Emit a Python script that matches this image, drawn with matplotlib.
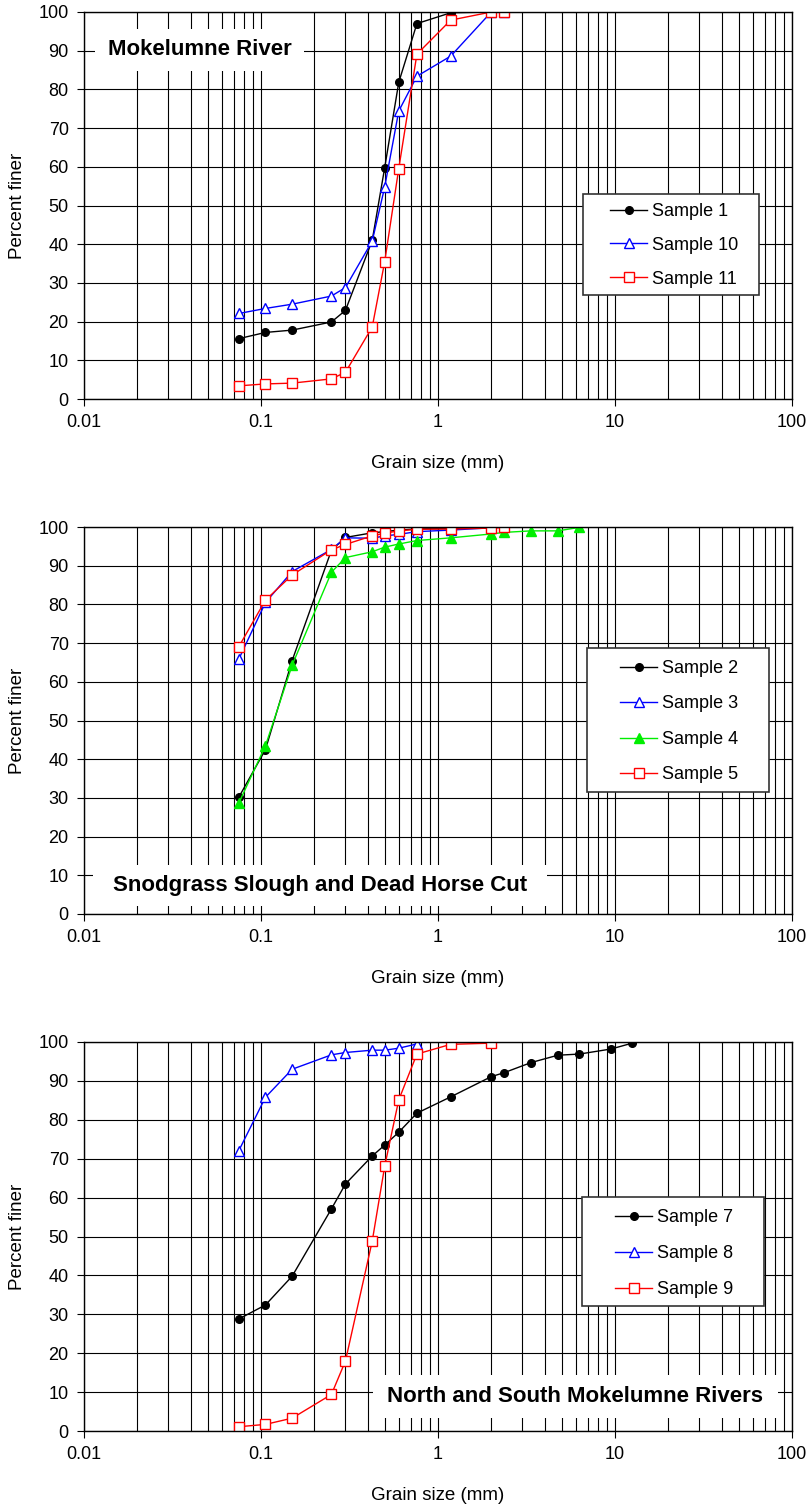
import numpy as np
import matplotlib
matplotlib.use("Agg")
import matplotlib.pyplot as plt
from matplotlib.ticker import LogLocator, FixedLocator, FuncFormatter
from matplotlib.patches import Rectangle

plt.rcParams['font.family'] = ['Liberation Sans', 'DejaVu Sans']

# ---- data (grain size in mm, percent finer) ----
size_a = [0.075, 0.106, 0.15, 0.25, 0.3, 0.425, 0.5, 0.6, 0.76, 1.18, 2.0, 2.36]
size_b = [0.075, 0.106, 0.15, 0.25, 0.3, 0.425, 0.5, 0.6, 0.76, 1.18, 2.0, 2.36,
          3.35, 4.75, 6.3, 9.5, 12.5]

s1 = [15.6, 17.2, 17.8, 19.9, 22.9, 41.0, 59.8, 81.8, 97.0, 99.8, 100.0]
s10 = [22.1, 23.4, 24.5, 26.6, 28.8, 40.8, 54.8, 74.4, 83.4, 88.6, 100.0, 100.0]
s11 = [3.4, 3.9, 4.1, 5.2, 6.9, 18.6, 35.5, 59.5, 89.1, 97.9, 100.0, 100.0]

s2 = [30.2, 42.5, 65.5, 94.0, 97.3, 98.5, 98.8, 99.2, 99.5, 99.6, 99.8]
s3 = [65.9, 80.5, 88.5, 94.2, 97.2, 97.1, 97.7, 98.1, 98.8, 99.2, 99.8]
s4 = [28.7, 43.5, 64.3, 88.3, 92.1, 93.6, 94.8, 95.6, 96.5, 97.2, 98.2, 98.6,
      99.0, 99.0, 99.9]
s5 = [69.1, 81.1, 87.6, 94.1, 95.5, 97.7, 98.4, 99.0, 99.4, 99.5, 99.7, 99.9]

s7 = [28.8, 32.4, 39.8, 57.1, 63.5, 70.7, 73.5, 76.8, 81.7, 85.9, 91.1, 92.1,
      94.7, 96.6, 96.9, 98.2, 99.7]
s8 = [72.1, 85.8, 93.0, 96.7, 97.3, 97.9, 97.9, 98.4, 99.5]
s9 = [1.1, 1.7, 3.3, 9.4, 18.0, 48.8, 68.1, 85.1, 96.9, 99.4, 99.7]

titles = ["Mokelumne River", "Snodgrass Slough and Dead Horse Cut",
          "North and South Mokelumne Rivers"]
decades = [0.01, 0.1, 1, 10, 100]

GREEN = '#00ee00'
black = dict(color='black', marker='o', ms=5.5, mfc='black', mec='black')
blue = dict(color='blue', marker='^', ms=7, mfc='white', mec='blue', mew=1)
green = dict(color=GREEN, marker='^', ms=7, mfc=GREEN, mec=GREEN)
red = dict(color='red', marker='s', ms=6.5, mfc='white', mec='red', mew=1)

fig = plt.figure(figsize=(8.1, 15.06), dpi=100)
W, H = 810.0, 1506.0
left, right = 84, 792
tops = [12, 527, 1042]
bots = [399, 914, 1431]


def setup(ax):
    ax.set_xscale('log')
    ax.set_xlim(0.01, 100)
    ax.set_ylim(0, 100)
    ax.xaxis.set_major_locator(FixedLocator(decades))
    ax.xaxis.set_major_formatter(FuncFormatter(lambda v, p: '%g' % v))
    ax.xaxis.set_minor_locator(LogLocator(base=10, subs=np.arange(2, 10), numticks=20))
    ax.set_yticks(np.arange(0, 101, 10))
    ax.set_axisbelow(True)
    ax.grid(True, which='both', color='black', linewidth=0.8)
    ax.tick_params(which='major', direction='out', length=5, width=0.8,
                   labelsize=13, pad=6)
    ax.tick_params(which='minor', length=0)
    for sp in ax.spines.values():
        sp.set_color('black')
        sp.set_linewidth(1)
    ax.set_xlabel("Grain size (mm)", fontsize=13.5, labelpad=17)
    ax.set_ylabel("Percent finer", fontsize=13.5, labelpad=9)


def title_box(ax, txt, x0, w, y0, h, tx, ty):
    ax.add_patch(Rectangle((x0, y0), w, h, transform=ax.transAxes,
                           facecolor='white', edgecolor='none', zorder=1))
    ax.text(tx, ty, txt, transform=ax.transAxes, ha='center', va='center',
            fontsize=16, fontweight='bold', zorder=3)


def legend(ax, i, box, hx, row1, spacing):
    # box = (l, t, r, b) in figure pixels, drawn as its own frame
    top, bot = tops[i], bots[i]
    w = right - left
    h = bot - top
    l, t, r, b = box
    ax.add_patch(Rectangle(((l - left) / w, (bot - b) / h), (r - l) / w, (b - t) / h,
                           transform=ax.transAxes, facecolor='white',
                           edgecolor='#333333', linewidth=1.2, zorder=4))
    lg = ax.legend(loc='upper left',
                   bbox_to_anchor=((hx - left) / w, (bot - row1 + 7) / h),
                   borderaxespad=0, borderpad=0, frameon=False,
                   fontsize=13, handlelength=2.05, handletextpad=0.3,
                   labelspacing=spacing)
    lg.set_zorder(5)


axes = []
for i in range(3):
    ax = fig.add_axes([left / W, 1 - bots[i] / H, (right - left) / W,
                       (bots[i] - tops[i]) / H])
    setup(ax)
    axes.append(ax)

ax = axes[0]
ax.plot(size_a[:len(s1)], s1, lw=1, label='Sample 1', **black)
ax.plot(size_a[:len(s10)], s10, lw=1, label='Sample 10', **blue)
ax.plot(size_a[:len(s11)], s11, lw=1, label='Sample 11', **red)
title_box(ax, titles[0], 0.0155, 0.295, 0.848, 0.1085, 0.163, 0.902)
legend(ax, 0, (583, 194, 759, 295), 610, 210, 0.93)

ax = axes[1]
ax.plot(size_a[:len(s2)], s2, lw=1, label='Sample 2', **black)
ax.plot(size_a[:len(s3)], s3, lw=1, label='Sample 3', **blue)
ax.plot(size_b[:len(s4)], s4, lw=1, label='Sample 4', **green)
ax.plot(size_a[:len(s5)], s5, lw=1, label='Sample 5', **red)
title_box(ax, titles[1], 0.0127, 0.641, 0.0207, 0.106, 0.333, 0.0736)
legend(ax, 1, (587, 648, 769, 792), 620, 667, 1.02)

ax = axes[2]
ax.plot(size_b[:len(s7)], s7, lw=1, label='Sample 7', **black)
ax.plot(size_a[:len(s8)], s8, lw=1, label='Sample 8', **blue)
ax.plot(size_a[:len(s9)], s9, lw=1, label='Sample 9', **red)
title_box(ax, titles[2], 0.408, 0.572, 0.0334, 0.1105, 0.694, 0.0887)
legend(ax, 2, (582, 1197, 764, 1306), 615, 1216, 1.06)

fig.savefig("out.png", dpi=100)
